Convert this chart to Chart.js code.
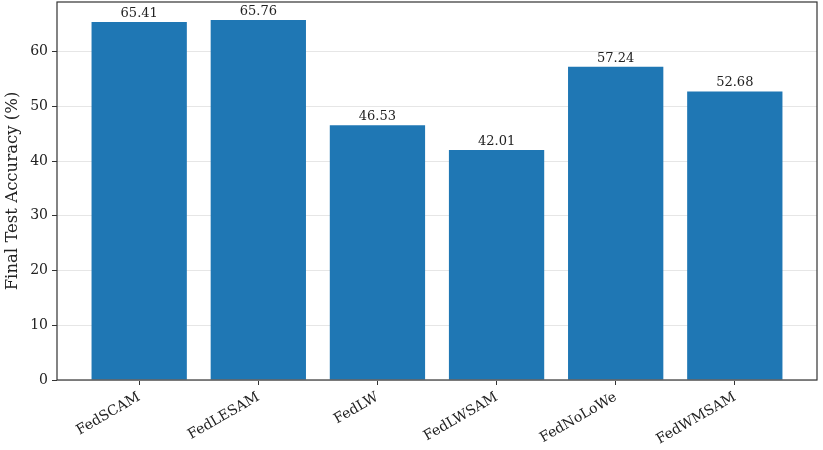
<!DOCTYPE html>
<html>
<head>
<meta charset="utf-8">
<script src="https://cdn.jsdelivr.net/npm/chart.js@4/dist/chart.umd.min.js"></script>
<style>
  html, body { margin: 0; padding: 0; background: #fff; }
  #wrap { width: 823px; height: 450px; }
</style>
</head>
<body>
<div id="wrap"><canvas id="chart" width="823" height="450"></canvas></div>
<script>
// data
const methods = ['FedSCAM', 'FedLESAM', 'FedLW', 'FedLWSAM', 'FedNoLoWe', 'FedWMSAM'];
const accuracy = [65.41, 65.76, 46.53, 42.01, 57.24, 52.68];
const yTicks = [0, 10, 20, 30, 40, 50, 60];

const FONT = "'DejaVu Serif', serif";
const INK = '#222';

// value labels over each bar
const valueLabels = {
    id: 'valueLabels',
    afterDatasetsDraw(chart) {
        const ctx = chart.ctx;
        const meta = chart.getDatasetMeta(0);
        ctx.save();
        ctx.font = '13px ' + FONT;
        ctx.fillStyle = INK;
        ctx.textAlign = 'center';
        ctx.textBaseline = 'bottom';
        meta.data.forEach((bar, i) => {
            ctx.fillText(accuracy[i].toFixed(2), bar.x, bar.y - 2);
        });
        ctx.restore();
    }
};

// full box around plot area
const frame = {
    id: 'frame',
    afterDraw(chart) {
        const a = chart.chartArea;
        const ctx = chart.ctx;
        ctx.save();
        ctx.strokeStyle = '#333';
        ctx.lineWidth = 1.2;
        ctx.strokeRect(a.left, a.top, a.right - a.left, a.bottom - a.top);
        ctx.restore();
    }
};

new Chart(document.getElementById('chart').getContext('2d'), {
    type: 'bar',
    data: {
        datasets: [{
            data: accuracy.map((v, i) => ({ x: i, y: v })),
            backgroundColor: '#1f77b4',
            borderWidth: 0,
            barPercentage: 0.8,
            categoryPercentage: 1.0
        }]
    },
    options: {
        responsive: false,
        animation: false,
        layout: { padding: { top: 2, right: 6, left: 0, bottom: 0 } },
        plugins: {
            legend: { display: false },
            tooltip: { enabled: false }
        },
        scales: {
            x: {
                type: 'linear',
                offset: false,
                min: -0.69,
                max: 5.69,
                afterBuildTicks(scale) {
                    scale.ticks = methods.map((m, i) => ({ value: i }));
                },
                afterFit(scale) {
                    scale.height = 70;
                    scale.paddingLeft = 0;
                    scale.paddingRight = 0;
                },
                grid: {
                    display: true,
                    offset: false,
                    drawOnChartArea: false,
                    drawTicks: true,
                    tickLength: 5,
                    tickColor: '#333',
                    color: '#333'
                },
                border: { display: false },
                ticks: {
                    autoSkip: false,
                    minRotation: 30,
                    maxRotation: 30,
                    padding: 4,
                    color: INK,
                    font: { family: FONT, size: 14 },
                    callback: (v) => methods[v]
                }
            },
            y: {
                min: 0,
                max: 69.05,
                afterBuildTicks(scale) {
                    scale.ticks = yTicks.map(v => ({ value: v }));
                },
                afterFit(scale) {
                    scale.width = 57;
                    scale.paddingTop = 0;
                    scale.paddingBottom = 0;
                },
                grid: {
                    color: '#e6e6e6',
                    lineWidth: 1,
                    drawTicks: true,
                    tickLength: 5,
                    tickColor: '#333'
                },
                border: { display: false },
                ticks: {
                    padding: 4,
                    color: INK,
                    font: { family: FONT, size: 14 }
                },
                title: {
                    display: true,
                    text: 'Final Test Accuracy (%)',
                    color: INK,
                    font: { family: FONT, size: 16.5 },
                    padding: { top: 3, bottom: 3 }
                }
            }
        }
    },
    plugins: [valueLabels, frame]
});
</script>
</body>
</html>
